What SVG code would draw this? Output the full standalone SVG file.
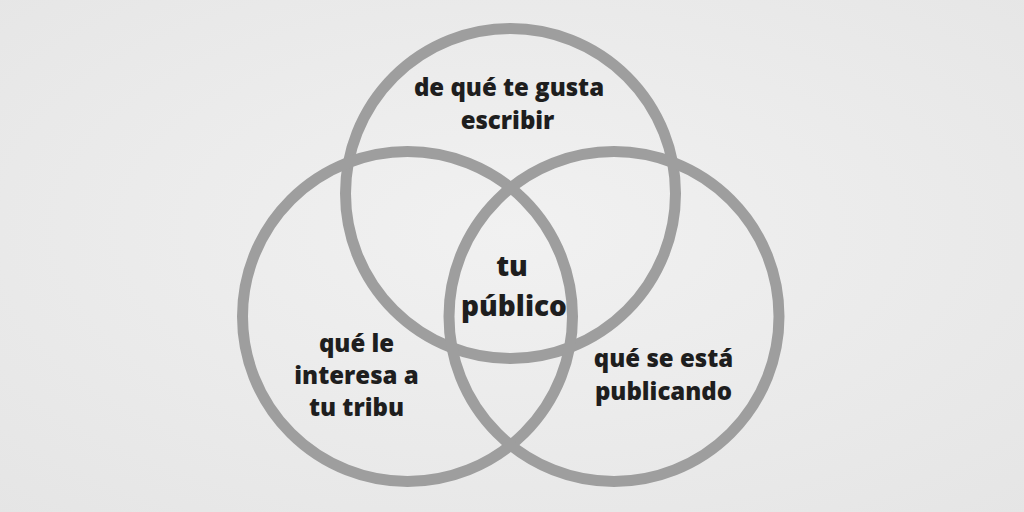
<svg xmlns="http://www.w3.org/2000/svg" width="1024" height="512" viewBox="0 0 1024 512">
<defs>
<style>
.c{fill:none;stroke:#9e9e9e;stroke-width:11}
.t{font-family:"Open Sans",Lato,"DejaVu Sans",sans-serif;font-weight:800;fill:#1e1e1e;text-anchor:middle;font-size:24px}
.b{font-size:28px}
</style>
<radialGradient id="bg" cx="50%" cy="45%" r="75%">
<stop offset="0" stop-color="#f1f1f1"/>
<stop offset="1" stop-color="#e5e5e5"/>
</radialGradient>
</defs>
<rect width="1024" height="512" fill="url(#bg)"/>
<g id="connectors"></g>
<g id="top"><circle class="c" cx="510.5" cy="193.5" r="165"/><text class="t" x="509" y="96">de qué te gusta</text><text class="t" x="507.5" y="129">escribir</text></g>
<g id="left"><circle class="c" cx="407.5" cy="316.5" r="165"/><text class="t" x="356.5" y="351.5">qué le</text><text class="t" x="356.5" y="384">interesa a</text><text class="t" x="356.5" y="415.5">tu tribu</text></g>
<g id="right"><circle class="c" cx="614" cy="316.5" r="165"/><text class="t" x="663.5" y="367">qué se está</text><text class="t" x="663.5" y="400">publicando</text></g>
<g id="center"><text class="t b" x="512" y="276">tu</text><text class="t b" x="514" y="316">público</text></g>
</svg>
